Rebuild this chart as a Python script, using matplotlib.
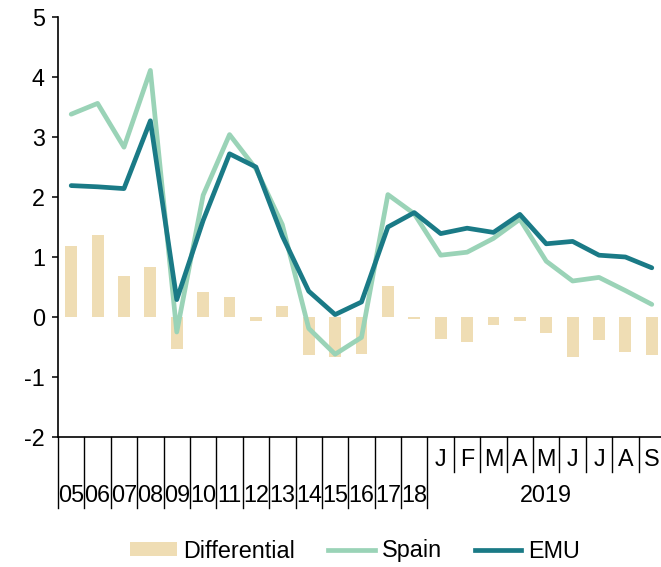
import numpy as np
import matplotlib
matplotlib.use("Agg")
import matplotlib.pyplot as plt
import matplotlib.transforms as mtransforms
from matplotlib.patches import Patch
from matplotlib.lines import Line2D

plt.rcParams['font.family'] = ['Liberation Sans', 'DejaVu Sans']
plt.rcParams['axes.unicode_minus'] = False

# categories: annual averages 2005-2018, then monthly 2019
years = ['05', '06', '07', '08', '09', '10', '11', '12', '13', '14', '15', '16', '17', '18']
months = ['J', 'F', 'M', 'A', 'M', 'J', 'J', 'A', 'S']

spain = [3.38, 3.56, 2.83, 4.11, -0.25, 2.03, 3.04, 2.47, 1.54, -0.19, -0.62, -0.34, 2.04, 1.72,
         1.03, 1.08, 1.31, 1.63, 0.93, 0.60, 0.66, 0.44, 0.21]
emu = [2.19, 2.17, 2.14, 3.27, 0.29, 1.61, 2.72, 2.50, 1.35, 0.43, 0.04, 0.25, 1.50, 1.74,
       1.39, 1.48, 1.41, 1.71, 1.22, 1.26, 1.03, 1.00, 0.82]
differential = [1.18, 1.37, 0.69, 0.83, -0.53, 0.41, 0.33, -0.06, 0.18, -0.64, -0.66, -0.61, 0.52, -0.04,
                -0.36, -0.42, -0.13, -0.07, -0.27, -0.67, -0.39, -0.58, -0.64]

c_bar = '#EFDDB4'
c_spain = '#9AD3B7'
c_emu = '#1A7A86'
fs = 16.8

fig = plt.figure(figsize=(6.61, 5.67), dpi=100)
ax = fig.add_axes([58 / 661, 1 - 437 / 567, 607 / 661, 420 / 567])

x = np.arange(len(spain))
ax.bar(x, differential, width=0.45, color=c_bar, zorder=1)
ax.plot(x, spain, color=c_spain, lw=3.4, solid_capstyle='round', zorder=2)
ax.plot(x, emu, color=c_emu, lw=3.4, solid_capstyle='round', zorder=3)

ax.set_xlim(-0.5, len(x) - 0.5)
ax.set_ylim(-2, 5)
ax.set_yticks(range(-2, 6))
ax.tick_params(axis='y', labelsize=fs, length=4.5, width=1.1, direction='out', pad=5)
ax.set_xticks([])
for s in ['top', 'right']:
    ax.spines[s].set_visible(False)
for s in ['left', 'bottom']:
    ax.spines[s].set_linewidth(1.2)

# category separators and labels below the axis
trans = mtransforms.blended_transform_factory(ax.transData, ax.transAxes)
h = 420.0
n_years = len(years)
for b in np.arange(-0.5, n_years, 1.0):
    ax.plot([b, b], [0, -71 / h], transform=trans, color='black', lw=1.0, clip_on=False)
for b in np.arange(n_years + 0.5, len(x) - 0.5, 1.0):
    ax.plot([b, b], [0, -35 / h], transform=trans, color='black', lw=1.0, clip_on=False)
for i, lab in enumerate(years):
    ax.text(i, -59 / h, lab, transform=trans, ha='center', va='center', fontsize=fs)
for i, lab in enumerate(months):
    ax.text(n_years + i, -23 / h, lab, transform=trans, ha='center', va='center', fontsize=fs)
ax.text(n_years + (len(months) - 1) / 2, -59 / h, '2019', transform=trans,
        ha='center', va='center', fontsize=fs)

handles = [Patch(facecolor=c_bar, edgecolor='none', label='Differential'),
           Line2D([], [], color=c_spain, lw=3.4, label='Spain'),
           Line2D([], [], color=c_emu, lw=3.4, label='EMU')]
fig.legend(handles=handles, loc='center', bbox_to_anchor=(355 / 661, 1 - 551 / 567), ncol=3,
           frameon=False, fontsize=fs, handlelength=2.0, handleheight=0.55,
           handletextpad=0.3, columnspacing=1.4)

fig.savefig('out.png', dpi=100)
